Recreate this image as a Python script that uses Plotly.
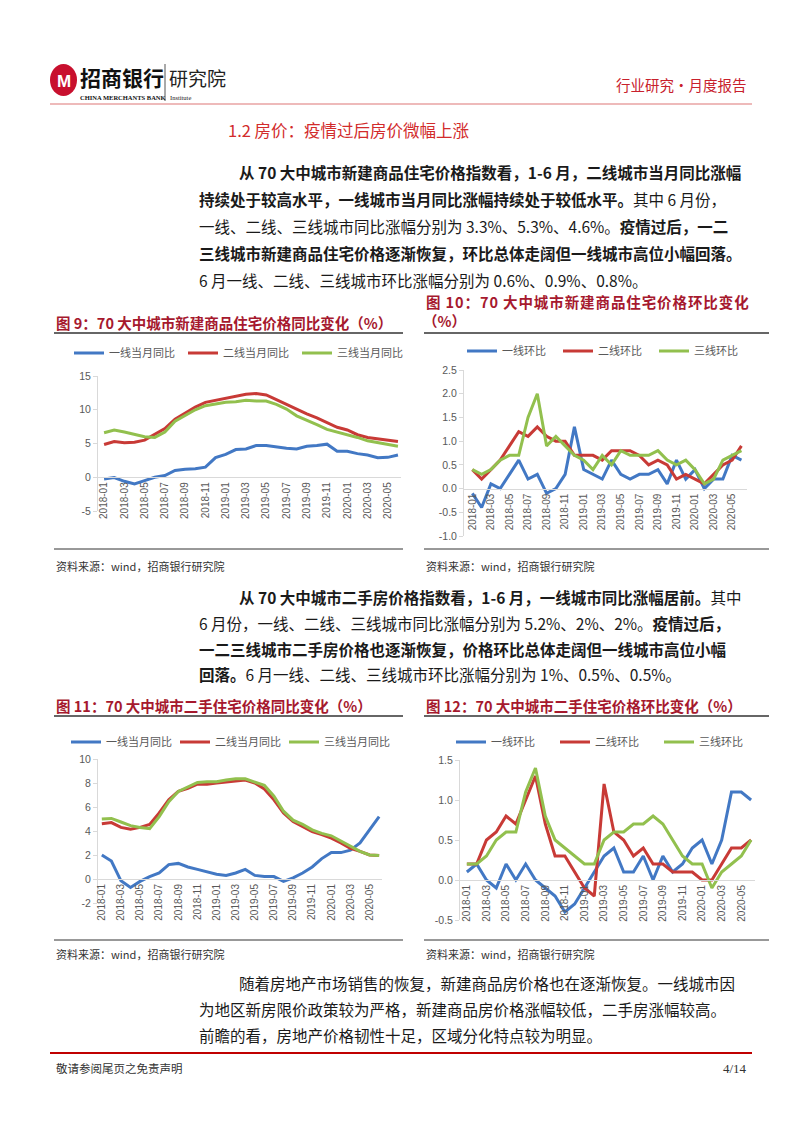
import plotly.graph_objects as go

# page is drawn in reference pixels; the browser body adds an 8px margin
OFF = 8
PAGE_W, PAGE_H = 802, 1133
W, H = PAGE_W - OFF, PAGE_H - OFF

MONTHS = ["2018-01", "2018-02", "2018-03", "2018-04", "2018-05", "2018-06",
          "2018-07", "2018-08", "2018-09", "2018-10", "2018-11", "2018-12",
          "2019-01", "2019-02", "2019-03", "2019-04", "2019-05", "2019-06",
          "2019-07", "2019-08", "2019-09", "2019-10", "2019-11", "2019-12",
          "2020-01", "2020-02", "2020-03", "2020-04", "2020-05", "2020-06"]
TICK_MONTHS = MONTHS[::2]

# 图9 新建商品住宅 同比
NEW_YOY_T1 = [-0.25, -0.05, -0.6, -1.0, -0.5, 0.0, 0.25, 1.0, 1.2, 1.25, 1.5, 2.9,
              3.4, 4.1, 4.2, 4.7, 4.7, 4.45, 4.3, 4.2, 4.6, 4.7, 4.9, 3.85,
              3.85, 3.5, 3.3, 2.9, 2.95, 3.3]
NEW_YOY_T2 = [4.85, 5.3, 5.1, 5.2, 5.5, 6.3, 7.2, 8.6, 9.45, 10.4, 11.1, 11.4,
              11.7, 12.1, 12.3, 12.4, 12.2, 11.5, 10.8, 10.0, 9.4, 8.8, 8.1, 7.4,
              7.0, 6.3, 5.9, 5.7, 5.5, 5.3]
NEW_YOY_T3 = [6.6, 7.0, 6.7, 6.3, 6.0, 5.9, 6.7, 8.3, 9.2, 10.0, 10.6, 10.9,
              11.1, 11.2, 11.4, 11.3, 11.3, 10.8, 10.1, 9.1, 8.5, 7.8, 7.1, 6.7,
              6.4, 5.9, 5.4, 5.15, 4.85, 4.6]

# 图10 新建商品住宅 环比
NEW_MOM_T1 = [-0.1, -0.4, 0.1, 0.0, 0.3, 0.6, 0.2, 0.3, -0.1, 0.0, 0.3, 1.3,
              0.4, 0.3, 0.2, 0.6, 0.3, 0.2, 0.3, 0.3, 0.4, 0.1, 0.6, 0.2,
              0.4, 0.0, 0.2, 0.2, 0.7, 0.6]
NEW_MOM_T2 = [0.4, 0.2, 0.4, 0.6, 0.9, 1.2, 1.1, 1.3, 1.1, 1.0, 1.0, 0.7,
              0.7, 0.7, 0.6, 0.8, 0.8, 0.8, 0.7, 0.5, 0.6, 0.5, 0.2, 0.3,
              0.2, 0.1, 0.3, 0.5, 0.6, 0.9]
NEW_MOM_T3 = [0.4, 0.3, 0.4, 0.6, 0.7, 0.7, 1.5, 2.0, 0.9, 1.1, 0.9, 0.7,
              0.6, 0.4, 0.7, 0.5, 0.8, 0.7, 0.7, 0.7, 0.8, 0.6, 0.5, 0.6,
              0.4, 0.1, 0.2, 0.6, 0.7, 0.8]

# 图11 二手住宅 同比
USED_YOY_T1 = [2.0, 1.5, -0.15, -0.7, -0.2, 0.2, 0.5, 1.2, 1.3, 1.0, 0.8, 0.6,
               0.4, 0.3, 0.5, 0.8, 0.3, 0.2, 0.2, -0.2, 0.1, 0.5, 1.0, 1.7,
               2.2, 2.2, 2.4, 3.0, 4.1, 5.2]
USED_YOY_T2 = [4.6, 4.7, 4.3, 4.15, 4.3, 4.55, 5.5, 6.6, 7.3, 7.55, 7.9, 7.9,
               8.0, 8.1, 8.15, 8.25, 8.0, 7.5, 6.6, 5.5, 4.8, 4.4, 3.95, 3.7,
               3.4, 3.0, 2.55, 2.3, 2.0, 1.95]
USED_YOY_T3 = [5.0, 5.05, 4.75, 4.45, 4.3, 4.2, 5.2, 6.45, 7.3, 7.7, 8.05, 8.1,
               8.1, 8.25, 8.35, 8.35, 8.1, 7.8, 6.9, 5.65, 4.9, 4.55, 4.1, 3.8,
               3.6, 3.15, 2.7, 2.3, 2.0, 1.95]

# 图12 二手住宅 环比
USED_MOM_T1 = [0.1, 0.2, 0.0, -0.1, 0.2, 0.0, 0.2, 0.0, -0.1, -0.2, -0.4, -0.3,
               -0.1, 0.1, 0.3, 0.4, 0.1, 0.1, 0.3, 0.0, 0.3, 0.1, 0.2, 0.4,
               0.5, 0.2, 0.5, 1.1, 1.1, 1.0]
USED_MOM_T2 = [0.2, 0.2, 0.5, 0.6, 0.8, 0.7, 1.0, 1.3, 0.7, 0.3, 0.3, 0.1,
               -0.1, -0.2, 1.2, 0.6, 0.5, 0.3, 0.4, 0.2, 0.2, 0.1, 0.1, 0.1,
               0.0, 0.0, 0.2, 0.4, 0.4, 0.5]
USED_MOM_T3 = [0.2, 0.2, 0.3, 0.5, 0.6, 0.6, 1.1, 1.4, 0.8, 0.5, 0.4, 0.3,
               0.2, 0.2, 0.5, 0.6, 0.6, 0.7, 0.7, 0.8, 0.7, 0.5, 0.3, 0.2,
               0.2, -0.1, 0.1, 0.2, 0.3, 0.5]

YOY_NAMES = ["一线当月同比", "二线当月同比", "三线当月同比"]
MOM_NAMES = ["一线环比", "二线环比", "三线环比"]

Y9_TICKS = [-5, 0, 5, 10, 15]
Y9_TEXT = ["-5", "0", "5", "10", "15"]
Y10_TICKS = [-1.0, -0.5, 0.0, 0.5, 1.0, 1.5, 2.0, 2.5]
Y10_TEXT = ["-1.0", "-0.5", "0.0", "0.5", "1.0", "1.5", "2.0", "2.5"]
Y11_TICKS = [-2, 0, 2, 4, 6, 8, 10]
Y11_TEXT = ["-2", "0", "2", "4", "6", "8", "10"]
Y12_TICKS = [-0.5, 0.0, 0.5, 1.0, 1.5]
Y12_TEXT = ["-0.5", "0.0", "0.5", "1.0", "1.5"]

BLUE = "#4278C4"
RED = "#C83A36"
GREEN = "#92C04E"
COLORS = [BLUE, RED, GREEN]
TITLE_RED = "#A6192E"
GRAY = "#595959"
AXIS = "#D9D9D9"
CJK = "Noto Sans CJK SC"


def fx(p):
    return (p - OFF) / W


def fy(p):
    return 1 - (p - OFF) / H


fig = go.Figure()

# (suffix, series, names, x px domain, x range, y top px, y bottom px, y range, ticks,
#  legend x px, legend y px, legend item spacing px)
charts = [
    ("", [NEW_YOY_T1, NEW_YOY_T2, NEW_YOY_T3], YOY_NAMES, (98, 401), [-0.6, 29.3], 376, 511,
     [-5, 15], (Y9_TICKS, Y9_TEXT), 69, 353, 113),
    ("2", [NEW_MOM_T1, NEW_MOM_T2, NEW_MOM_T3], MOM_NAMES, (464, 747), [-0.9, 29.6], 370, 536,
     [-1, 2.5], (Y10_TICKS, Y10_TEXT), 462, 351, 95),
    ("3", [USED_YOY_T1, USED_YOY_T2, USED_YOY_T3], YOY_NAMES, (98, 382), [-0.4, 29.3], 759, 903,
     [-2, 10], (Y11_TICKS, Y11_TEXT), 66, 742, 108),
    ("4", [USED_MOM_T1, USED_MOM_T2, USED_MOM_T3], MOM_NAMES, (460, 755), [-0.7, 29.4], 760, 920,
     [-0.5, 1.5], (Y12_TICKS, Y12_TEXT), 451, 742, 103),
]

layout_axes = {}
for sfx, series, names, xdom, xr, ytop, ybot, yr, ticks, lx, ly, step in charts:
    leg = "legend" + sfx
    for vals, name, col in zip(series, names, COLORS):
        fig.add_trace(go.Scatter(x=MONTHS, y=vals, name=name, mode="lines",
                                 line=dict(color=col, width=3),
                                 xaxis="x" + sfx, yaxis="y" + sfx, legend=leg))
    zero_px = ytop + (yr[1] - 0) / (yr[1] - yr[0]) * (ybot - ytop)
    layout_axes["xaxis" + sfx] = dict(
        domain=[fx(xdom[0]), fx(xdom[1])], range=xr, type="category",
        anchor="free", position=fy(zero_px),
        showline=True, linecolor=AXIS, linewidth=1, showgrid=False, zeroline=False,
        tickmode="array", tickvals=TICK_MONTHS, ticktext=TICK_MONTHS,
        tickangle=-90, tickfont=dict(family="Liberation Sans", size=10, color=GRAY),
        ticks="")
    layout_axes["yaxis" + sfx] = dict(
        domain=[fy(ybot), fy(ytop)], range=yr, anchor="x" + sfx,
        showline=True, linecolor=AXIS, linewidth=1, showgrid=False, zeroline=False,
        tickmode="array", tickvals=ticks[0], ticktext=ticks[1],
        ticks="outside", ticklen=4, tickcolor=AXIS,
        tickfont=dict(family="Liberation Sans", size=10.5, color=GRAY))
    layout_axes[leg] = dict(
        orientation="h", x=fx(lx), y=fy(ly), xanchor="left", yanchor="middle",
        entrywidth=step - 44, entrywidthmode="pixels", bgcolor="rgba(0,0,0,0)",
        font=dict(family=CJK, size=11, color=GRAY), itemwidth=30, tracegroupgap=0)

annotations = []


def text(s, x, y, size=15.5, color="#1a1a1a", anchor="left", family=CJK):
    # annotation boxes carry ~3px of padding
    dx = {"left": -3, "right": 3, "center": 0}[anchor]
    annotations.append(dict(text=s, x=fx(x + dx), y=fy(y), xref="paper", yref="paper",
                            xanchor=anchor, yanchor="middle", showarrow=False,
                            font=dict(family=family, size=size, color=color)))


shapes = []


def hline(x0, x1, y, color, width):
    shapes.append(dict(type="line", xref="paper", yref="paper", x0=fx(x0), x1=fx(x1),
                       y0=fy(y), y1=fy(y), line=dict(color=color, width=width)))


# header
shapes.append(dict(type="circle", xref="paper", yref="paper", x0=fx(50), x1=fx(77),
                   y0=fy(96), y1=fy(64), fillcolor="#C8102E", line=dict(width=0)))
text("<b>M</b>", 63.5, 81, size=17, color="white", anchor="center", family="Liberation Sans")
text("<b>招商银行</b>", 81, 77, size=21, color="#111")
text("<b>CHINA MERCHANTS BANK</b>", 81, 97, size=6.5, color="#111", family="Liberation Serif")
shapes.append(dict(type="line", xref="paper", yref="paper", x0=fx(165), x1=fx(165),
                   y0=fy(64), y1=fy(101), line=dict(color="#555", width=1)))
text("研究院", 170, 78, size=19, color="#222")
text("Institute", 171, 98, size=6.5, color="#222", family="Liberation Serif")
text("行业研究·月度报告", 746, 84, size=14.5, color="#C8202C", anchor="right")
hline(50, 752, 104, "#E8A3A3", 1.5)

text("1.2 房价：疫情过后房价微幅上涨", 229, 130, size=16.5, color="#D22B2B")

para1 = [
    (240, 172, "<b>从 70 大中城市新建商品住宅价格指数看，1-6 月，二线城市当月同比涨幅</b>"),
    (200, 199, "<b>持续处于较高水平，一线城市当月同比涨幅持续处于较低水平。</b>其中 6 月份，"),
    (200, 226, "一线、二线、三线城市同比涨幅分别为 3.3%、5.3%、4.6%。<b>疫情过后，一二</b>"),
    (200, 253, "<b>三线城市新建商品住宅价格逐渐恢复，环比总体走阔但一线城市高位小幅回落。</b>"),
    (200, 280, "6 月一线、二线、三线城市环比涨幅分别为 0.6%、0.9%、0.8%。"),
]
para2 = [
    (240, 597, "<b>从 70 大中城市二手房价格指数看，1-6 月，一线城市同比涨幅居前。</b>其中"),
    (200, 623, "6 月份，一线、二线、三线城市同比涨幅分别为 5.2%、2%、2%。<b>疫情过后，</b>"),
    (200, 649, "<b>一二三线城市二手房价格也逐渐恢复，价格环比总体走阔但一线城市高位小幅</b>"),
    (200, 674, "<b>回落。</b>6 月一线、二线、三线城市环比涨幅分别为 1%、0.5%、0.5%。"),
]
para3 = [
    (240, 983, "随着房地产市场销售的恢复，新建商品房价格也在逐渐恢复。一线城市因"),
    (200, 1009, "为地区新房限价政策较为严格，新建商品房价格涨幅较低，二手房涨幅较高。"),
    (200, 1035, "前瞻的看，房地产价格韧性十足，区域分化特点较为明显。"),
]
for x, y, s in para1 + para2 + para3:
    text(s, x, y)

# chart titles, rules and sources
title10 = "\u200a".join("图 10：70 大中城市新建商品住宅价格环比变化")
text("<b>图 9：70 大中城市新建商品住宅价格同比变化（%）</b>", 57, 322, size=14.5, color=TITLE_RED)
text("<b>" + title10 + "</b>", 427, 302, size=14.5, color=TITLE_RED)
text("<b>（%）</b>", 424, 321, size=14.5, color=TITLE_RED)
text("<b>图 11：70 大中城市二手住宅价格同比变化（%）</b>", 57, 705, size=14.5, color=TITLE_RED)
text("<b>图 12：70 大中城市二手住宅价格环比变化（%）</b>", 427, 705, size=14.5, color=TITLE_RED)
for y in (333, 716):
    hline(54, 403, y, "#333", 1.3)
    hline(424, 769, y, "#333", 1.3)
for y in (549, 940):
    hline(54, 403, y, "#333", 1)
    hline(424, 769, y, "#333", 1)
for y in (566, 954):
    text("资料来源：wind，招商银行研究院", 57, y, size=11, color="#333")
    text("资料来源：wind，招商银行研究院", 427, y, size=11, color="#333")

# footer
hline(50, 752, 1053, "#C00000", 2)
text("敬请参阅尾页之免责声明", 57, 1068, size=11.5, color="#333")
text("4/14", 746, 1068, size=13, color="#333", anchor="right", family="Liberation Serif")

fig.update_layout(
    width=W, height=H, margin=dict(l=0, r=0, t=0, b=0, autoexpand=False),
    paper_bgcolor="white", plot_bgcolor="white",
    font=dict(family=CJK, color=GRAY),
    showlegend=True, annotations=annotations, shapes=shapes,
    **layout_axes,
)

fig.write_html("out.html")
